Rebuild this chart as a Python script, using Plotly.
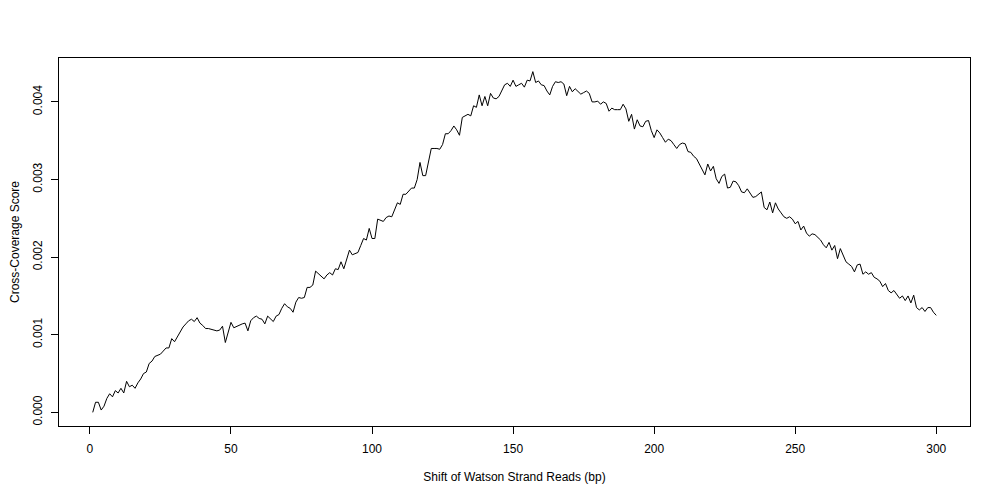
import plotly.graph_objects as go

# Shift of Watson strand reads (bp)
shift_bp = list(range(1, 301))

# Cross-coverage score (one value per bp shift)
score = [
    0.00000, 0.00013, 0.00013, 0.00003, 0.00008, 0.00018, 0.00024, 0.00020, 0.00028, 0.00025,
    0.00031, 0.00025, 0.00040, 0.00033, 0.00035, 0.00031, 0.00038, 0.00043, 0.00050, 0.00052,
    0.00063, 0.00066, 0.00072, 0.00074, 0.00075, 0.00079, 0.00083, 0.00083, 0.00095, 0.00091,
    0.00098, 0.00105, 0.00110, 0.00114, 0.00118, 0.00120, 0.00117, 0.00122, 0.00115, 0.00112,
    0.00108, 0.00108, 0.00107, 0.00106, 0.00105, 0.00106, 0.00111, 0.00090, 0.00103, 0.00116,
    0.00109, 0.00111, 0.00112, 0.00114, 0.00115, 0.00105, 0.00118, 0.00122, 0.00124, 0.00121,
    0.00120, 0.00114, 0.00124, 0.00120, 0.00117, 0.00124, 0.00126, 0.00134, 0.00140, 0.00136,
    0.00134, 0.00129, 0.00142, 0.00148, 0.00147, 0.00148, 0.00161, 0.00161, 0.00164, 0.00182,
    0.00179, 0.00176, 0.00172, 0.00177, 0.00180, 0.00177, 0.00185, 0.00184, 0.00194, 0.00185,
    0.00197, 0.00209, 0.00203, 0.00205, 0.00206, 0.00215, 0.00224, 0.00222, 0.00237, 0.00224,
    0.00224, 0.00249, 0.00248, 0.00246, 0.00251, 0.00253, 0.00252, 0.00262, 0.00270, 0.00268,
    0.00281, 0.00281, 0.00285, 0.00289, 0.00289, 0.00300, 0.00322, 0.00305, 0.00305, 0.00324,
    0.00340, 0.00340, 0.00340, 0.00339, 0.00345, 0.00359, 0.00359, 0.00363, 0.00369, 0.00364,
    0.00357, 0.00380, 0.00382, 0.00384, 0.00382, 0.00395, 0.00393, 0.00409, 0.00395, 0.00407,
    0.00395, 0.00411, 0.00405, 0.00404, 0.00407, 0.00415, 0.00422, 0.00424, 0.00420, 0.00428,
    0.00420, 0.00422, 0.00424, 0.00419, 0.00428, 0.00427, 0.00439, 0.00425, 0.00427, 0.00422,
    0.00421, 0.00414, 0.00409, 0.00420, 0.00426, 0.00425, 0.00426, 0.00423, 0.00408, 0.00420,
    0.00413, 0.00417, 0.00413, 0.00410, 0.00412, 0.00414, 0.00411, 0.00400, 0.00400, 0.00401,
    0.00397, 0.00400, 0.00398, 0.00388, 0.00392, 0.00390, 0.00390, 0.00390, 0.00397, 0.00391,
    0.00375, 0.00384, 0.00365, 0.00377, 0.00369, 0.00368, 0.00375, 0.00376, 0.00363, 0.00354,
    0.00364, 0.00360, 0.00354, 0.00348, 0.00352, 0.00350, 0.00345, 0.00340, 0.00345, 0.00347,
    0.00346, 0.00336, 0.00335, 0.00330, 0.00327, 0.00320, 0.00313, 0.00306, 0.00320, 0.00311,
    0.00317, 0.00301, 0.00295, 0.00304, 0.00307, 0.00289, 0.00290, 0.00298, 0.00297, 0.00292,
    0.00284, 0.00283, 0.00288, 0.00283, 0.00277, 0.00278, 0.00281, 0.00284, 0.00264, 0.00261,
    0.00271, 0.00257, 0.00270, 0.00262, 0.00257, 0.00252, 0.00250, 0.00252, 0.00249, 0.00243,
    0.00246, 0.00235, 0.00240, 0.00231, 0.00227, 0.00230, 0.00229, 0.00226, 0.00222, 0.00216,
    0.00212, 0.00219, 0.00209, 0.00215, 0.00198, 0.00211, 0.00203, 0.00194, 0.00191, 0.00188,
    0.00181, 0.00190, 0.00191, 0.00178, 0.00181, 0.00178, 0.00180, 0.00174, 0.00172, 0.00169,
    0.00162, 0.00166, 0.00157, 0.00154, 0.00157, 0.00152, 0.00147, 0.00150, 0.00144, 0.00150,
    0.00141, 0.00151, 0.00135, 0.00132, 0.00135, 0.00130, 0.00135, 0.00135, 0.00129, 0.00125,
]

x_ticks = [0, 50, 100, 150, 200, 250, 300]
y_ticks = [0.000, 0.001, 0.002, 0.003, 0.004]
y_tick_labels = ["0.000", "0.001", "0.002", "0.003", "0.004"]

FONT = "Liberation Sans, Arial, Helvetica, sans-serif"

fig = go.Figure()
fig.add_trace(go.Scatter(
    x=shift_bp, y=score, mode="lines",
    line=dict(color="black", width=1),
    showlegend=False, hoverinfo="skip",
))

# R-style 4% padding on both axes
xmin, xmax = min(shift_bp), max(shift_bp)
xpad = 0.04 * (xmax - xmin)
ymin, ymax = min(score), max(score)
ypad = 0.04 * (ymax - ymin)

# The page body has an 8px margin, so the figure is drawn 8px in from the
# top-left corner; size it so it fills the 1000x500 window exactly.
fig.update_layout(
    width=992, height=492,
    margin=dict(l=51, r=30, t=50, b=74),
    paper_bgcolor="white", plot_bgcolor="white",
    font=dict(family=FONT, size=12, color="black"),
    showlegend=False,
)
fig.update_xaxes(
    range=[xmin - xpad, xmax + xpad],
    tickmode="array", tickvals=x_ticks,
    ticks="outside", ticklen=7, tickwidth=1, tickcolor="black",
    ticklabelstandoff=5,
    showline=True, mirror=True, linecolor="black", linewidth=1,
    showgrid=False, zeroline=False,
    title=dict(text="Shift of Watson Strand Reads (bp)", standoff=17,
               font=dict(size=12)),
    tickfont=dict(size=12),
    automargin=False,
)
fig.update_yaxes(
    range=[ymin - ypad, ymax + ypad],
    tickmode="array", tickvals=y_ticks, ticktext=y_tick_labels,
    tickangle=-90,
    ticks="outside", ticklen=7, tickwidth=1, tickcolor="black",
    ticklabelstandoff=4,
    showline=True, mirror=True, linecolor="black", linewidth=1,
    showgrid=False, zeroline=False,
    title=dict(text="Cross-Coverage Score", standoff=18, font=dict(size=12)),
    tickfont=dict(size=12),
    automargin=False,
)

fig.write_html("out.html")
